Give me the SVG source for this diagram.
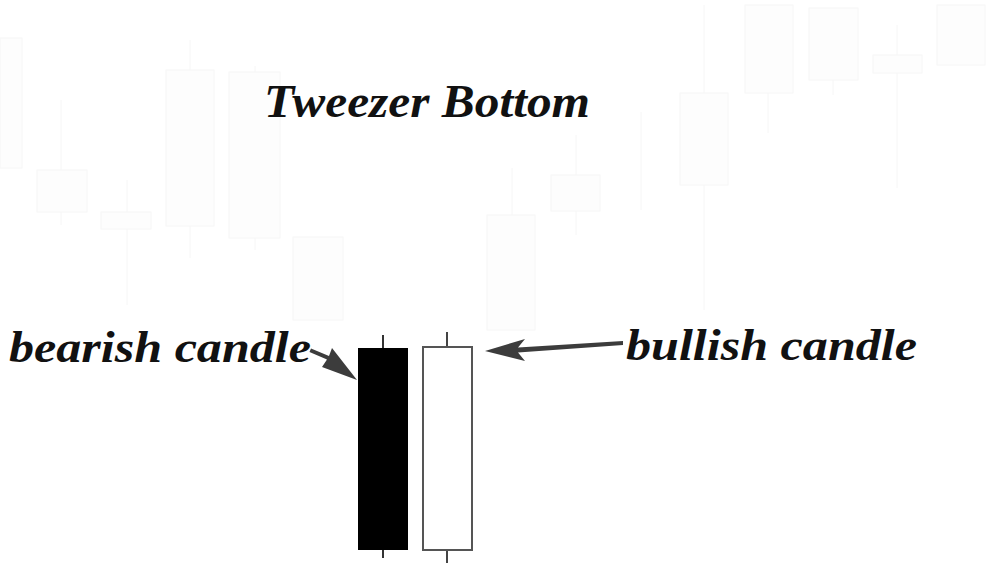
<svg xmlns="http://www.w3.org/2000/svg" width="986" height="565" viewBox="0 0 986 565">
<style>
.ghost{fill:#fdfdfd;stroke:#f6f6f6;stroke-width:1}
.gw{stroke:#f6f6f6;stroke-width:1}
.lbl{font-family:"Liberation Serif","Times New Roman",serif;font-style:italic;font-weight:bold;fill:#111}
.arrow{fill:#3c3c3c}
</style>
<rect width="986" height="565" fill="#ffffff"/>
<g id="background-candles">
<rect class="ghost" x="0" y="38" width="22" height="130"/>
<line class="gw" x1="61" y1="100" x2="61" y2="225"/>
<rect class="ghost" x="37" y="170" width="50" height="42"/>
<line class="gw" x1="127" y1="180" x2="127" y2="305"/>
<rect class="ghost" x="101" y="212" width="50" height="17"/>
<line class="gw" x1="190" y1="40" x2="190" y2="258"/>
<rect class="ghost" x="166" y="70" width="48" height="156"/>
<line class="gw" x1="255" y1="66" x2="255" y2="250"/>
<rect class="ghost" x="229" y="72" width="51" height="166"/>
<rect class="ghost" x="293" y="237" width="50" height="83"/>
<line class="gw" x1="512" y1="168" x2="512" y2="330"/>
<rect class="ghost" x="487" y="215" width="48" height="115"/>
<line class="gw" x1="576" y1="135" x2="576" y2="235"/>
<rect class="ghost" x="551" y="175" width="49" height="36"/>
<line class="gw" x1="641" y1="112" x2="641" y2="210"/>
<line class="gw" x1="704" y1="5" x2="704" y2="310"/>
<rect class="ghost" x="680" y="93" width="48" height="92"/>
<line class="gw" x1="768" y1="5" x2="768" y2="133"/>
<rect class="ghost" x="745" y="5" width="48" height="88"/>
<line class="gw" x1="833" y1="80" x2="833" y2="95"/>
<rect class="ghost" x="809" y="8" width="49" height="72"/>
<line class="gw" x1="897" y1="25" x2="897" y2="188"/>
<rect class="ghost" x="873" y="55" width="49" height="18"/>
<rect class="ghost" x="937" y="5" width="48" height="60"/>
</g>
<g id="title">
<text class="lbl" x="264" y="117" font-size="46" textLength="326" lengthAdjust="spacingAndGlyphs">Tweezer Bottom</text>
</g>
<g id="bearish-candle">
<line x1="383" y1="335" x2="383" y2="558" stroke="#333" stroke-width="2"/>
<rect x="358" y="348" width="50" height="202" fill="#000"/>
</g>
<g id="bullish-candle">
<line x1="447" y1="332" x2="447" y2="563" stroke="#444" stroke-width="2"/>
<rect x="423" y="347" width="49" height="203" fill="#fff" stroke="#555" stroke-width="2"/>
</g>
<g id="label-bearish">
<text class="lbl" x="9" y="362" font-size="44" textLength="302" lengthAdjust="spacingAndGlyphs">bearish candle</text>
</g>
<g id="label-bullish">
<text class="lbl" x="626" y="360" font-size="44" textLength="291" lengthAdjust="spacingAndGlyphs">bullish candle</text>
</g>
<g id="connectors">
<path class="arrow" d="M311,348.5 L329,356 L332,348 L357,380 L322,367 L327,359.5 L309.5,352 Z"/>
<path class="arrow" d="M485,351 L525,339 L518,347.5 L623,341 L623,345 L518,352.5 L525,361 Z"/>
</g>
</svg>
